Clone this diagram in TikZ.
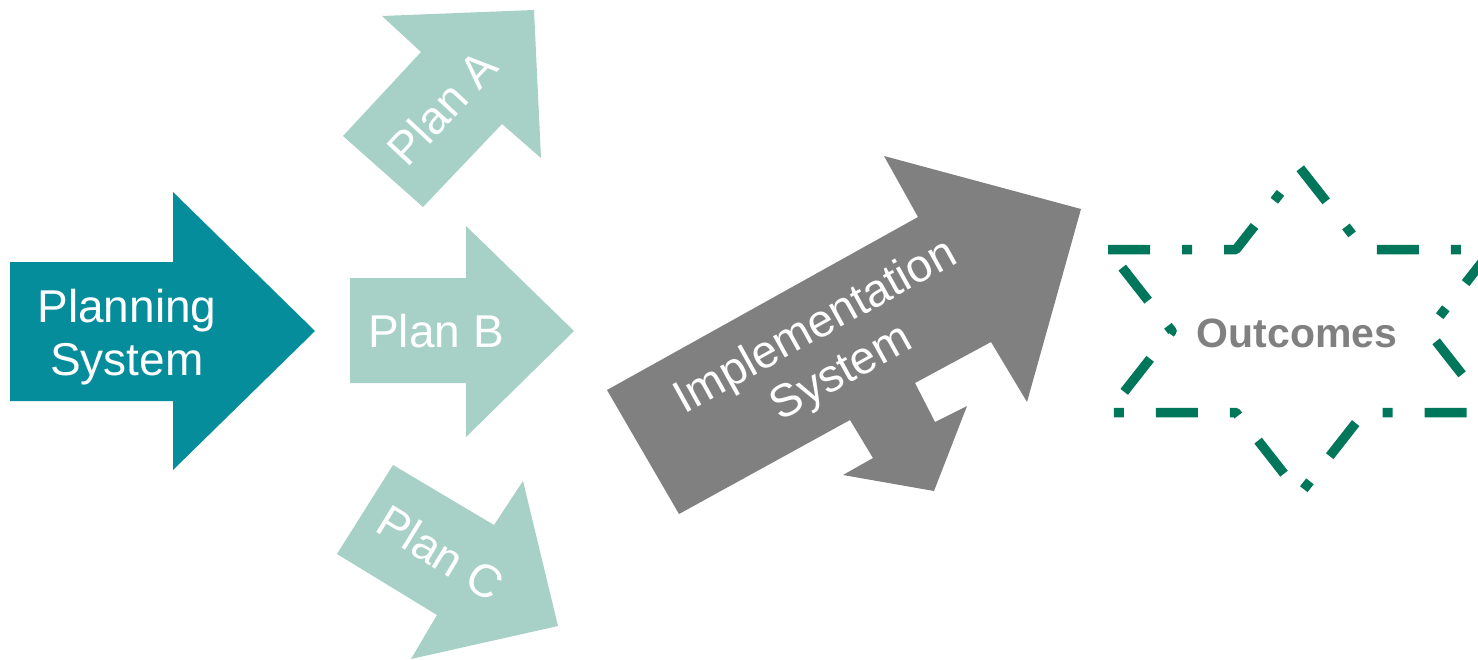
\documentclass[tikz,border=0pt]{standalone}
\usepackage{fontspec}
\setmainfont{Liberation Sans}
\definecolor{planteal}{RGB}{6,141,155}
\definecolor{planlight}{RGB}{167,209,198}
\definecolor{implgray}{RGB}{128,128,128}
\definecolor{stargreen}{RGB}{0,118,90}
\begin{document}
\begin{tikzpicture}[x=1pt,y=-1pt,
  lbl/.style={text=white, font=\fontsize{46}{53}\selectfont, inner sep=0pt, align=center},
  lightarrow/.style={fill=planlight},
  starline/.style={draw=stargreen, line width=9.5pt, line join=round,
    dash pattern=on 42pt off 32pt on 10pt off 32pt}]
\useasboundingbox (0,0) rectangle (1478,659);
\clip (0,0) rectangle (1478,659);

% Planning System arrow
\fill[planteal] (10,262) -- (173,262) -- (173,192) -- (315,331) -- (173,470) -- (173,401) -- (10,401) -- cycle;
\node[lbl] (planning) at (127,337) {Planning\\System};

% Plan A
\fill[lightarrow] (382,16) -- (534,10) -- (541,158) -- (502,124) -- (423,207) -- (343,136) -- (421,52) -- cycle;
\node[lbl, anchor=base, rotate=47] (plana) at (454,119) {Plan A};

% Plan B
\fill[lightarrow] (350,278) -- (466,278) -- (466,226) -- (574,331) -- (466,437) -- (466,383) -- (350,383) -- cycle;
\node[lbl, anchor=base] (planb) at (436,347) {Plan B};

% Plan C
\fill[lightarrow] (393,465) -- (494,525) -- (523,481) -- (558,626) -- (411,659) -- (437,615) -- (337,554) -- cycle;
\node[lbl, anchor=base, rotate=-31.5] (planc) at (432,567) {Plan C};

% Implementation System arrow
\fill[implgray] (607,390) -- (918,217) -- (884,156) -- (1081,209) -- (1027,402) -- (991,342)
  -- (915,383) -- (935,422) -- (967,406) -- (934,491) -- (843,475) -- (873,458) -- (850,420) -- (679,514) -- cycle;
\node[lbl, rotate=29] (impl) at (829,351) {Implementation\\System};

% Outcomes hexagram
\draw[starline] (1108,249.5) -- (1236,249.5) -- (1300,168) -- (1364,249.5) -- (1492,249.5) -- (1428,331)
  -- (1492,412.5) -- (1364,412.5) -- (1300,494) -- (1236,412.5) -- (1108,412.5) -- (1172,331) -- cycle;
\node[text=implgray, font=\fontsize{41}{48}\selectfont\bfseries, inner sep=0pt, anchor=base] (outcomes) at (1297,347) {Outcomes};
\end{tikzpicture}
\end{document}
